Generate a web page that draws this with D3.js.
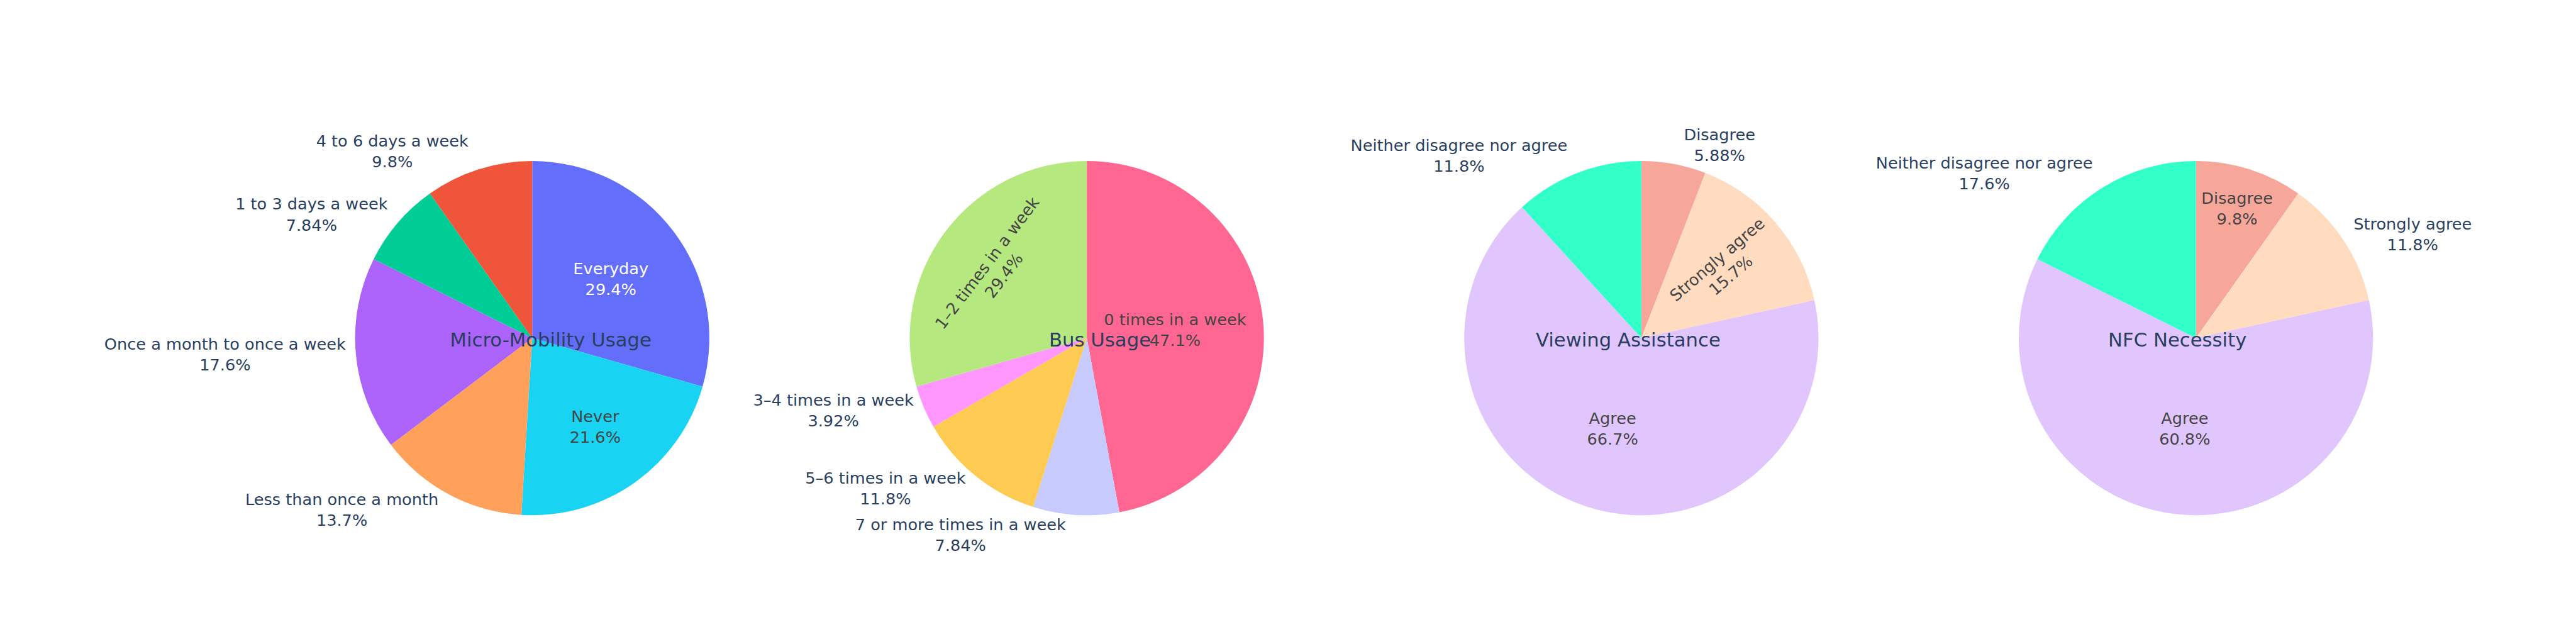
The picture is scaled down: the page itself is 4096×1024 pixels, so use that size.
<!DOCTYPE html>
<html><head><meta charset="utf-8">
<script src="https://cdn.jsdelivr.net/npm/d3@7"></script>
<style>html,body{margin:0;padding:0;background:#fff;overflow:hidden}</style>
</head><body>
<svg id="chart"></svg>
<script>
// ---------------- data ----------------
const pieTitles = ["Micro-Mobility Usage", "Bus Usage", "Viewing Assistance", "NFC Necessity"];

const mmLabels = ["Everyday", "Never", "Less than once a month", "Once a month to once a week", "1 to 3 days a week", "4 to 6 days a week"];
const mmCounts = [15, 11, 7, 9, 4, 5];

const busLabels = ["0 times in a week", "7 or more times in a week", "5–6 times in a week", "3–4 times in a week", "1–2 times in a week"];
const busCounts = [24, 4, 6, 2, 15];

const viewLabels = ["Disagree", "Strongly agree", "Agree", "Neither disagree nor agree"];
const viewCounts = [3, 8, 34, 6];

const nfcLabels = ["Disagree", "Strongly agree", "Agree", "Neither disagree nor agree"];
const nfcCounts = [5, 6, 31, 9];

const colorLabels = ["Everyday", "4 to 6 days a week", "1 to 3 days a week", "Once a month to once a week",
  "Less than once a month", "Never", "0 times in a week", "1–2 times in a week", "3–4 times in a week",
  "5–6 times in a week", "7 or more times in a week", "Disagree", "Neither disagree nor agree", "Agree", "Strongly agree"];
const colorValues = ["#636efa", "#EF553B", "#00cc96", "#ab63fa", "#FFA15A", "#19d3f3", "#FF6692", "#B6E880",
  "#FF97FF", "#FECB52", "#C6CAFD", "#F7A799", "#33FFC9", "#E0C6FD", "#FFDBC0"];

// ---------------- layout (reference units 4800x1200) ----------------
const W = 4800, H = 1200;
const margin = {t: 300, b: 240};
const plotL = 573.5, plotW = 3936.5;
const colW = 0.2125, colGap = 0.05;
const titleX = [0.115, 0.375, 0.625, 0.885];
const FONT = "'DejaVu Sans', Verdana, sans-serif";
const labelSize = 30, titleSize = 36;
const TEXTPAD = 9;

const svg = d3.select("#chart")
  .attr("width", 4096).attr("height", 1024)
  .attr("viewBox", `0 0 ${W} ${H}`)
  .style("font-family", FONT);
svg.append("rect").attr("width", W).attr("height", H).attr("fill", "#fff");

const color = d3.scaleOrdinal().domain(colorLabels).range(colorValues);
const pctFmt = d3.format(".3~p");

const pies = [
  {labels: mmLabels, values: mmCounts},
  {labels: busLabels, values: busCounts},
  {labels: viewLabels, values: viewCounts},
  {labels: nfcLabels, values: nfcCounts}
];

const plotH = H - margin.t - margin.b;

function calcMaxHalfSize(a, halfAngle, r, ring) {
  const q = a + 1 / (2 * Math.tan(halfAngle));
  return r * Math.min(1 / (Math.sqrt(q * q + 0.5) + q), ring / (Math.sqrt(a * a + ring / 2) + a));
}
function calcRCenter(a, b) { return Math.cos(b) - a * b; }
function calcRotate(t) { return (180 / Math.PI * t + 720) % 180 - 90; }
function radT(bb, r, half, mid) {
  r = Math.max(0, r - 2 * TEXTPAD);
  const a = bb.width / bb.height;
  const s = calcMaxHalfSize(a, half, r, 1);
  return {scale: s * 2 / bb.height, rCenter: calcRCenter(a, s / r), rotate: calcRotate(mid)};
}
function tanT(bb, r, half, mid) {
  r = Math.max(0, r - 2 * TEXTPAD);
  const a = bb.height / bb.width;
  const s = calcMaxHalfSize(a, half, r, 1);
  return {scale: s * 2 / bb.width, rCenter: calcRCenter(a, s / r), rotate: calcRotate(mid + Math.PI / 2)};
}
function insideTransform(bb, start, stop, r) {
  const half = (stop - start) / 2, mid = (start + stop) / 2;
  const rIns = Math.min(1 / (1 + 1 / Math.sin(half)), 0.5);
  const diam = Math.hypot(bb.width, bb.height);
  const t = {scale: rIns * r * 2 / diam, rCenter: 1 - rIns, rotate: 0, posAngle: mid};
  if (t.scale >= 1) return t;
  const all = [t];
  for (let k = -4; k <= 8; k++) {
    const ang = k * Math.PI / 2;
    if (ang > start && ang < stop) {
      const edge = Math.min(ang - start, stop - ang);
      const n = (k % 2 === 0) ? tanT(bb, r, edge, 0) : radT(bb, r, edge, Math.PI / 2);
      n.posAngle = ang;
      all.push(n);
    }
  }
  const rt = radT(bb, r, half, mid); rt.posAngle = mid; all.push(rt);
  const tt = tanT(bb, r, half, mid); tt.posAngle = mid; all.push(tt);
  return all.reduce((m, x) => x.scale > m.scale ? x : m);
}
function contrast(c) {
  const k = d3.rgb(c);
  return (k.r * 299 + k.g * 587 + k.b * 114) / 1000 < 128 ? "#ffffff" : "#444444";
}

pies.forEach((p, i) => {
  const x0 = i * (colW + colGap), x1 = x0 + colW;
  const cx = plotL + plotW * (x0 + x1) / 2;
  const cy = margin.t + plotH / 2;
  const r = Math.min(plotW * colW, plotH) / 2;
  const data = p.labels.map((l, j) => ({label: l, value: p.values[j]}));
  const total = d3.sum(p.values);
  const arcs = d3.pie().sort(null).value(d => d.value).startAngle(0).endAngle(2 * Math.PI)(data);
  const arc = d3.arc().innerRadius(0).outerRadius(r);

  const g = svg.append("g").attr("class", "pie").attr("transform", `translate(${cx},${cy})`);
  g.selectAll("path").data(arcs).join("path")
    .attr("d", arc)
    .attr("fill", d => color(d.data.label));

  const tg = svg.append("g").attr("class", "labels");
  arcs.forEach(d => {
    const t = tg.append("text")
      .attr("font-size", labelSize)
      .attr("text-anchor", "middle");
    [d.data.label, pctFmt(d.data.value / total)].forEach((line, li) => {
      t.append("tspan").attr("x", 0).attr("dy", li === 0 ? 0 : "1.3em").text(line);
    });
    const b = t.node().getBBox();
    const bb = {width: b.width, height: b.height};
    const bcx = b.x + b.width / 2, bcy = b.y + b.height / 2;
    const tr = insideTransform(bb, d.startAngle, d.endAngle, r);
    if (tr.scale >= 1) {
      const tx = cx + Math.sin(tr.posAngle) * r * tr.rCenter;
      const ty = cy - Math.cos(tr.posAngle) * r * tr.rCenter;
      t.attr("fill", contrast(color(d.data.label)))
        .attr("transform", `translate(${tx},${ty}) rotate(${tr.rotate}) translate(${-bcx},${-bcy})`);
    } else {
      const mid = (d.startAngle + d.endAngle) / 2;
      const px = r * Math.sin(mid), py = -r * Math.cos(mid);
      let dx = bb.width / 2, dy = bb.height / 2;
      if (px < 0) dx *= -1;
      if (py < 0) dy *= -1;
      const tx = cx + px + dx + Math.abs(dy) * (dx > 0 ? 1 : -1) / 2;
      const ty = cy + py + dy / (1 + px * px / (py * py));
      t.attr("fill", "#2a3f5f")
        .attr("transform", `translate(${tx},${ty}) translate(${-bcx},${-bcy})`);
    }
  });

  svg.append("text")
    .attr("class", "pie-title")
    .attr("x", plotL + plotW * titleX[i])
    .attr("y", cy + 0.42 * titleSize)
    .attr("text-anchor", "middle")
    .attr("font-size", titleSize)
    .attr("fill", "#2a3f5f")
    .text(pieTitles[i]);
});
</script>
</body></html>
